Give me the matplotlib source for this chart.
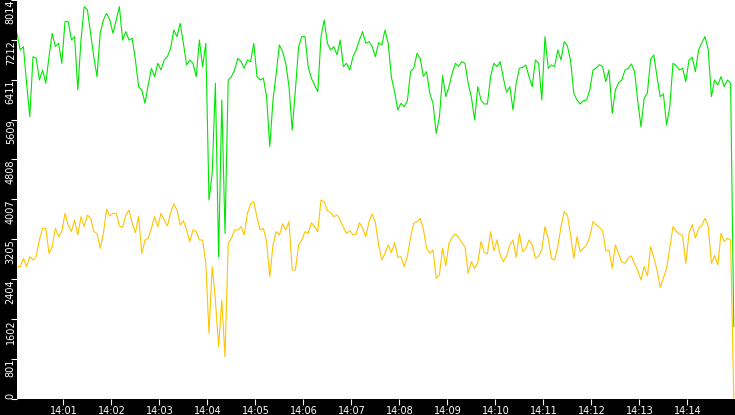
import numpy as np
import pandas as pd
import matplotlib
matplotlib.use("Agg")
import matplotlib.pyplot as plt
import matplotlib.dates as mdates

# one sample every 4 s, starting 14:00:02
start_time = "2024-01-01 14:00:02"
sample_step = "4s"

green_values = [
    7344, 7009, 7076, 6339, 5669, 6875, 6842, 6406, 6607, 6339, 6875, 7344, 7076, 7143, 6741,
    7579, 7579, 7210, 7277, 6205, 7210, 7880, 7813, 7344, 6875, 6473, 7344, 7612, 7746, 7612,
    7344, 7612, 7880, 7210, 7378, 7210, 7244, 6808, 6272, 6205, 5937, 6306, 6641, 6473, 6741,
    6607, 6808, 6875, 7043, 7411, 7277, 7545, 7143, 6708, 6808, 6741, 6473,
    7210, 6674, 7143, 3994, 4530, 6339, 2855, 6004, 3324, 6406, 6473, 6607, 6842, 6775, 6641,
    6808, 6775, 7143, 6473, 6406, 6440, 6071, 5066, 6004, 6540, 7110, 6976, 6741, 6272, 5401,
    6205, 7076, 7277, 7277, 6674, 6440, 6306, 6172, 7277, 7612, 7143, 7009, 7076, 6909, 7210,
    6674, 6741, 6607, 6875, 7009, 7210, 7378, 7143, 7177, 7076,
    6875, 7156, 7110, 7411, 7143, 6460, 6172, 5803, 5937, 5870, 5991, 6580, 6641, 6942, 6842,
    6480, 6574, 6138, 5937, 5334, 5656, 6493, 6071, 6272, 6540, 6741, 6681, 6775, 6741, 6339,
    6058, 5602, 6272, 6004, 5924, 5924, 6473, 6741, 6674, 6775, 6440, 6158, 6272, 5803, 6339,
    6641, 6661, 6708, 6473, 6272, 6808, 6741, 6004, 7277, 6641, 6708,
    6674, 7009, 6808, 7177, 7089, 6795, 6138, 6004, 5924, 5991, 6004, 6205, 6607, 6647, 6714,
    6674, 6373, 6607, 5736, 6205, 6352, 6406, 6607, 6641, 6728, 6574, 5971, 5468, 6038, 6151,
    6821, 6909, 6473, 6071, 6125, 5502, 5870, 6741, 6694, 6607, 6641, 6373, 6808, 6862, 6574,
    7009, 7156, 7277, 7022, 6071, 6406, 6306, 6473, 6272, 6406, 6339, 1448,
]

yellow_values = [
    2654, 2654, 2822, 2654, 2855, 2788, 2855, 3190, 3425, 3425, 2922, 3056, 3425, 3257, 3358,
    3726, 3492, 3358, 3592, 3291, 3659, 3458, 3693, 3626, 3358, 3324, 3023, 3324, 3806, 3672,
    3726, 3726, 3471, 3445, 3693, 3793, 3525, 3338, 3659, 2922, 3190, 3224, 3425, 3659, 3458,
    3726, 3592, 3471, 3739, 3914, 3793, 3492, 3579, 3391, 3157, 3391, 3358,
    3190, 3190, 2721, 1314, 2654, 1984, 1046, 1984, 845, 3123, 3224, 3391, 3391, 3458, 3291,
    3726, 3914, 3961, 3646, 3391, 3425, 3157, 2453, 3090, 3358, 3291, 3512, 3391, 3559, 2587,
    2587, 3090, 3190, 3358, 3324, 3538, 3458, 3358, 3994, 3961, 3780, 3739, 3659, 3693, 3592,
    3445, 3324, 3378, 3291, 3311, 3538, 3425, 3257, 3559, 3713,
    3538, 3090, 2788, 2922, 3090, 2935, 3136, 2842, 2855, 2654, 2868, 3244, 3525, 3559, 3626,
    3404, 3023, 2922, 2989, 2420, 2487, 3023, 2667, 3123, 3244, 3311, 3244, 3136, 3056, 2520,
    2755, 2621, 2734, 3157, 2942, 2909, 3358, 2976, 3190, 2889, 2755, 2868, 3090, 3190, 2842,
    3324, 2956, 3023, 3190, 3090, 2822, 2868, 3002, 3458, 3224, 2822,
    2788, 3056, 3458, 3760, 3693, 3291, 2822, 3257, 2956, 3023, 3090, 3257, 3559, 3492, 3445,
    3378, 2976, 2989, 2621, 3090, 2909, 2748, 2721, 2828, 2868, 2708, 2574, 2386, 2654, 2466,
    3056, 2842, 2587, 2239, 2426, 2614, 3043, 3458, 3364, 3311, 3277, 2721, 3324, 3498, 3230,
    3418, 3485, 3626, 3471, 2721, 2882, 2687, 3324, 3157, 3224, 3190, 8,
]

y_max = 8014
x_start = "2024-01-01 14:00:02"
x_end = "2024-01-01 14:14:59.5"

times = pd.date_range(start_time, periods=len(green_values), freq=sample_step)

fig = plt.figure(figsize=(7.35, 4.15), dpi=100, facecolor="black")
ax = fig.add_axes([17 / 735, 16.3 / 415, 718 / 735, 398.7 / 415])
ax.set_facecolor("white")

ax.plot(times, green_values, color="#00e600", lw=0.8)
ax.plot(times, yellow_values, color="#ffc400", lw=0.8)

ax.set_xlim(pd.Timestamp(x_start), pd.Timestamp(x_end))
ax.set_ylim(0, y_max)

# y ticks: ten equal steps, labels truncated
yticks = np.linspace(0, y_max, 11)
ax.set_yticks(yticks)
ax.set_yticklabels([str(int(v)) for v in yticks])

ax.xaxis.set_major_locator(mdates.MinuteLocator())
ax.xaxis.set_major_formatter(mdates.DateFormatter("%H:%M"))

for side in ax.spines:
    ax.spines[side].set_visible(False)

ax.tick_params(axis="both", colors="white", length=4, width=0.8,
               labelsize=7, direction="out")
ax.tick_params(axis="x", pad=1)
ax.tick_params(axis="y", pad=0.5)

for lbl in ax.get_yticklabels():
    lbl.set_rotation(90)
    lbl.set_va("bottom" if lbl.get_text() == "0" else "top")
    lbl.set_ha("center")

fig.savefig("out.png", dpi=100, facecolor="black")
plt.close(fig)
